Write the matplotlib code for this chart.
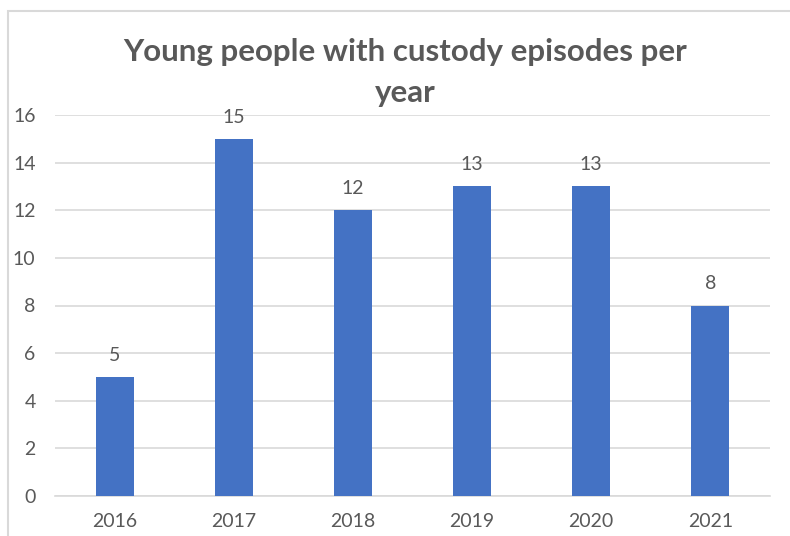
import matplotlib.pyplot as plt
from matplotlib.patches import Rectangle

years = ["2016", "2017", "2018", "2019", "2020", "2021"]
counts = [5, 15, 12, 13, 13, 8]
y_ticks = [0, 2, 4, 6, 8, 10, 12, 14, 16]

plt.rcParams["font.family"] = ["Lato", "DejaVu Sans"]
TEXT = "#595959"
GRID = "#D9D9D9"
BAR = "#4472C4"

fig = plt.figure(figsize=(7.9, 5.36), dpi=100)
ax = fig.add_axes([55 / 790, 1 - 496 / 536, 715 / 790, 381 / 536])

# chart border (cropped at right and bottom)
fig.patches.append(
    Rectangle((8 / 790, -0.1), 1.2, 1 - 11 / 536 + 0.1, transform=fig.transFigure,
              fill=False, edgecolor=GRID, linewidth=1.5)
)

x = range(len(years))
ax.bar(x, counts, width=0.32, color=BAR, zorder=3)
for xi, v in zip(x, counts):
    ax.text(xi, v + 0.55, str(v), ha="center", va="bottom", fontsize=14, color=TEXT)

ax.set_xlim(-0.5, len(years) - 0.5)
ax.set_ylim(0, 16)
ax.set_yticks(y_ticks)
ax.set_xticks(list(x))
ax.set_xticklabels(years)
ax.tick_params(axis="both", length=0, labelsize=14, labelcolor=TEXT)
ax.tick_params(axis="y", pad=14)
ax.tick_params(axis="x", pad=12)
ax.grid(axis="y", color=GRID, linewidth=1.2, zorder=0)
for s in ["top", "right", "left"]:
    ax.spines[s].set_visible(False)
ax.spines["bottom"].set_color(GRID)
ax.spines["bottom"].set_linewidth(1.2)

fig.text(405 / 790, 1 - 52 / 536, "Young people with custody episodes per",
         ha="center", va="center", fontsize=22.5, fontweight="bold", color=TEXT)
fig.text(405 / 790, 1 - 93 / 536, "year",
         ha="center", va="center", fontsize=22.5, fontweight="bold", color=TEXT)

fig.savefig("out.png", dpi=100)
